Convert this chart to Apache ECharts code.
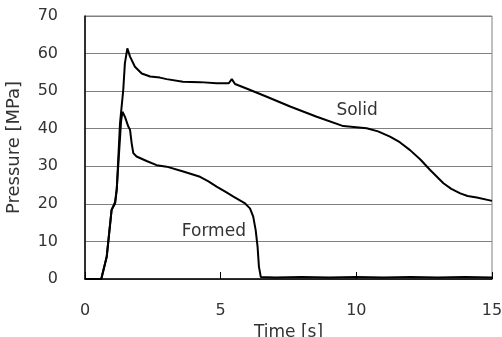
<!DOCTYPE html>
<html>
<head>
<meta charset="utf-8">
<script src="https://cdn.jsdelivr.net/npm/echarts@6/dist/echarts.min.js"></script>
<style>html,body{margin:0;padding:0;background:#fff;}#c{width:502px;height:337px;}</style>
</head>
<body>
<div id="c"></div>
<script>
const xTicks = [0, 5, 10, 15];
const yTicks = [0, 10, 20, 30, 40, 50, 60, 70];

const solidTime = [0, 0.6, 0.8, 0.98, 1.11, 1.17, 1.23, 1.29, 1.41, 1.47, 1.56, 1.66, 1.84, 2.09, 2.40, 2.76, 3.01, 3.61, 4.24, 4.85, 5.30, 5.41, 5.53, 6.02, 6.70, 7.56, 8.54, 9.52, 10.38, 10.8, 11.24, 11.6, 11.98, 12.36, 12.72, 13.21, 13.5, 13.83, 14.1, 14.44, 15.0];
const solidPressure = [0, 0, 5.9, 18.4, 20.1, 23.7, 32.6, 41.4, 50.3, 57.4, 61.4, 59.2, 56.5, 54.7, 53.9, 53.6, 53.2, 52.5, 52.4, 52.1, 52.1, 53.2, 51.9, 50.5, 48.5, 45.9, 43.2, 40.7, 40.1, 39.3, 37.9, 36.4, 34.3, 31.8, 29.0, 25.5, 24.0, 22.8, 22.1, 21.7, 20.8];

const formedTime = [0, 0.6, 0.8, 0.98, 1.11, 1.17, 1.25, 1.33, 1.38, 1.47, 1.60, 1.66, 1.72, 1.78, 1.90, 2.27, 2.64, 3.01, 3.62, 4.24, 4.55, 4.85, 5.2, 5.47, 5.90, 6.08, 6.20, 6.29, 6.36, 6.41, 6.48, 7, 8, 9, 10, 11, 12, 13, 14, 15];
const formedPressure = [0, 0, 5.9, 18.4, 20.5, 24, 33, 42, 44.5, 43.2, 40.5, 39.7, 36.1, 33.5, 32.6, 31.4, 30.3, 29.9, 28.6, 27.2, 26.0, 24.6, 23.1, 21.9, 20.1, 18.8, 16.6, 13.0, 8.6, 3.3, 0.5, 0.4, 0.5, 0.4, 0.5, 0.4, 0.5, 0.4, 0.5, 0.4];

const seriesNames = ['Solid', 'Formed'];
const labelPos = { Solid: [10.03, 44.85], Formed: [4.75, 12.5] };

const zip = (a, b) => a.map((v, i) => [v, b[i]]);
const font = 'DejaVu Sans';
const txt = '#333';

const chart = echarts.init(document.getElementById('c'), null, { renderer: 'canvas' });
function mkSeries(name, data) {
  return {
    name, type: 'line', data, symbol: 'none', smooth: false,
    lineStyle: { color: '#000', width: 2 },
    animation: false,
    markPoint: {
      symbol: 'circle', symbolSize: 0,
      label: { show: true, formatter: name, color: txt, fontFamily: font, fontSize: 17, position: 'inside' },
      data: [{ coord: labelPos[name] }]
    }
  };
}
chart.setOption({
  animation: false,
  backgroundColor: '#fff',
  grid: { left: 85, right: 10, top: 16, bottom: 58, show: true, borderColor: '#808080', borderWidth: 1, outerBoundsMode: 'none', containLabel: false },
  xAxis: {
    type: 'value', min: xTicks[0], max: xTicks[xTicks.length - 1], interval: 5,
    name: 'Time [s]', nameLocation: 'middle', nameGap: 39,
    nameTextStyle: { color: txt, fontFamily: font, fontSize: 17 },
    axisLine: { show: true, onZero: false, lineStyle: { color: '#000', width: 1.5 } },
    axisTick: { show: true, inside: true, length: 7, lineStyle: { color: '#000' } },
    axisLabel: { color: txt, fontFamily: font, fontSize: 16, margin: 24 },
    splitLine: { show: false }
  },
  yAxis: {
    type: 'value', min: yTicks[0], max: yTicks[yTicks.length - 1], interval: 10,
    name: 'Pressure [MPa]', nameLocation: 'middle', nameGap: 62, nameRotate: 90,
    nameTextStyle: { color: txt, fontFamily: font, fontSize: 18 },
    axisLine: { show: true, lineStyle: { color: '#000', width: 1.5 } },
    axisTick: { show: false },
    axisLabel: { color: txt, fontFamily: font, fontSize: 16, margin: 27 },
    splitLine: { show: true, lineStyle: { color: '#808080', width: 1 } }
  },
  series: [mkSeries(seriesNames[0], zip(solidTime, solidPressure)), mkSeries(seriesNames[1], zip(formedTime, formedPressure))]
});
</script>
</body>
</html>
